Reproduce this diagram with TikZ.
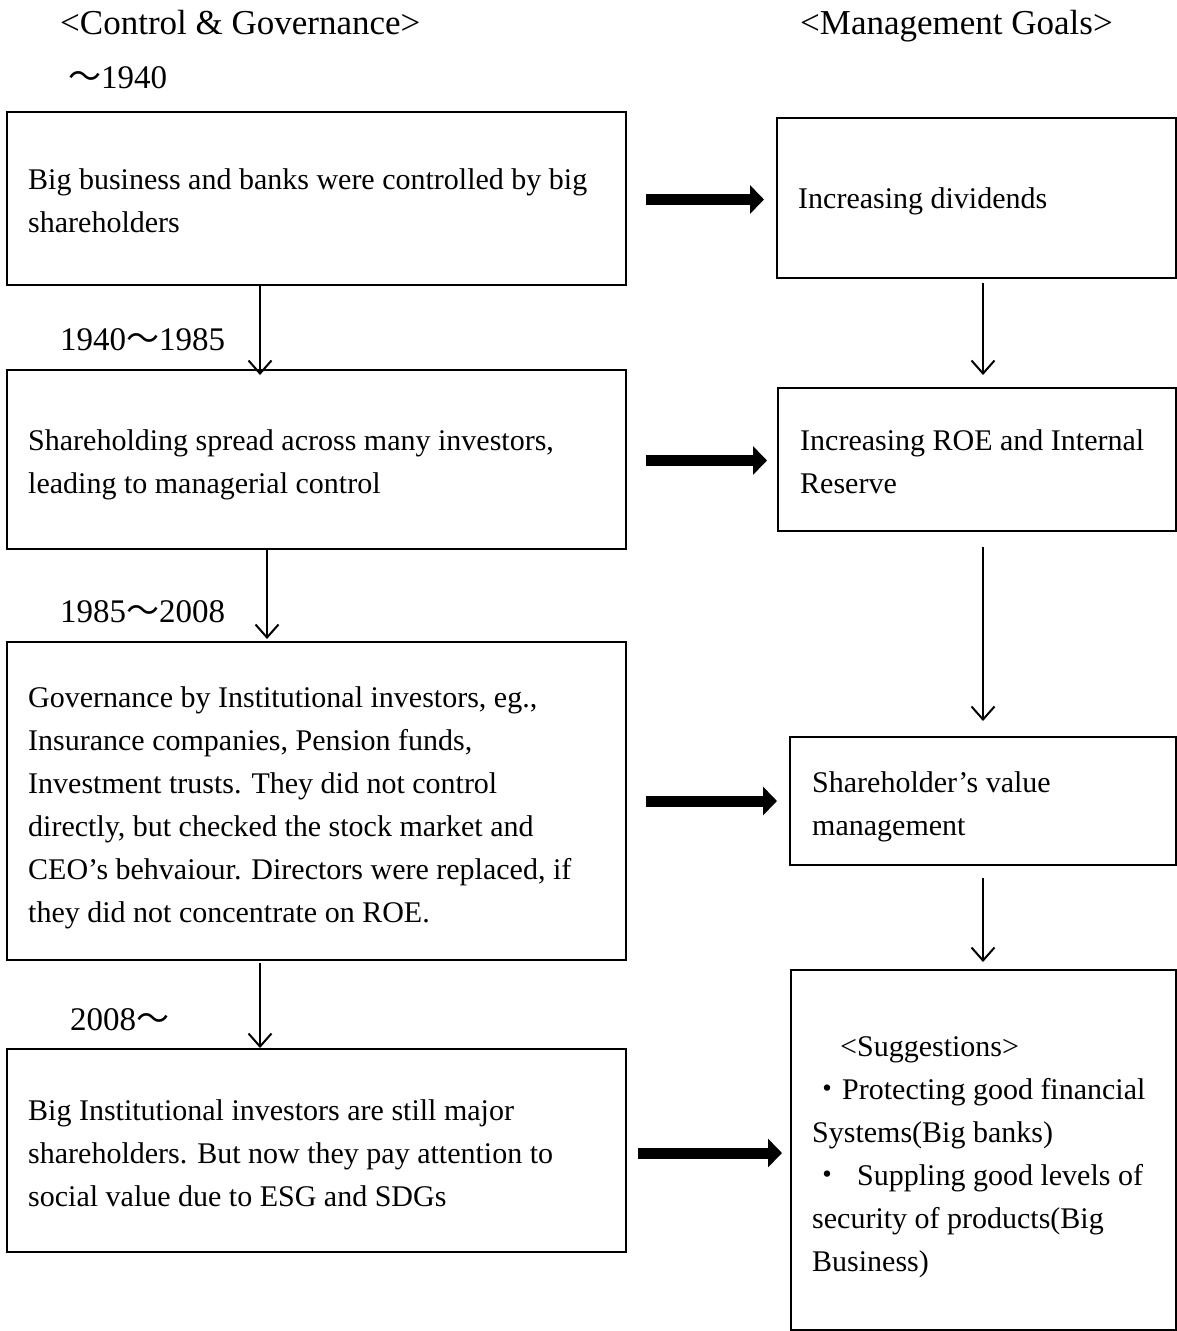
\documentclass[tikz,border=0pt]{standalone}
\usepackage{fontspec}
\setmainfont{Liberation Serif}
\newfontfamily\jp{Noto Sans CJK JP}
\usetikzlibrary{arrows.meta}
\newcommand{\wave}{{\jp ～}}
\newcommand{\dotmark}{{\jp ・}}
\begin{document}
\begin{tikzpicture}[x=1pt,y=-1pt,
  box/.style={draw=black, line width=2pt, inner sep=0pt},
  % multi-line texts are placed by the baseline of their last line
  txt/.style={inner sep=0pt, anchor=base west, align=left,
    font=\fontsize{30pt}{43pt}\selectfont},
  head/.style={txt, font=\fontsize{35pt}{40pt}\selectfont},
  period/.style={txt, font=\fontsize{33pt}{40pt}\selectfont},
  flow/.style={line width=2pt, -{Straight Barb[length=13pt,width=23pt,line width=2pt]}},
  push/.style={line width=11pt, -{Triangle[length=14pt,width=28pt]}}]
\useasboundingbox (0,0) rectangle (1177,1331);

% column headings and periods
\node[head] (hcg) at (60,34) {<Control \& Governance>};
\node[head] (hmg) at (800,34) {<Management Goals>};
\node[period] (p1) at (68,88) {\wave1940};
\node[period] (p2) at (60,350) {1940\wave1985};
\node[period] (p3) at (60,622) {1985\wave2008};
\node[period] (p4) at (70,1030) {2008\wave};

% left column: control and governance
\node[box, minimum width=619pt, minimum height=173pt] (b1) at (316.5,198.5) {};
\node[box, minimum width=619pt, minimum height=179pt] (b2) at (316.5,459.5) {};
\node[box, minimum width=619pt, minimum height=318pt] (b3) at (316.5,801) {};
\node[box, minimum width=619pt, minimum height=203pt] (b4) at (316.5,1150.5) {};

\node[txt] (t1) at (28,232) {Big business and banks were controlled by big\\shareholders};
\node[txt] (t2) at (28,493) {Shareholding spread across many investors,\\leading to managerial control};
\node[txt] (t3) at (28,922) {Governance by Institutional investors, eg.,\\Insurance companies, Pension funds,\\Investment trusts. They did not control\\directly, but checked the stock market and\\CEO’s behvaiour. Directors were replaced, if\\they did not concentrate on ROE.};
\node[txt] (t4) at (28,1206) {Big Institutional investors are still major\\shareholders. But now they pay attention to\\social value due to ESG and SDGs};

% right column: management goals
\node[box, minimum width=399pt, minimum height=160pt] (r1) at (976.5,198) {};
\node[box, minimum width=398pt, minimum height=143pt] (r2) at (977,459.5) {};
\node[box, minimum width=386pt, minimum height=128pt] (r3) at (983,801) {};
\node[box, minimum width=385pt, minimum height=360pt] (r4) at (983.5,1150) {};

\node[txt] (s1) at (798,208) {Increasing dividends};
\node[txt] (s2) at (800,493) {Increasing ROE and Internal\\Reserve};
\node[txt] (s3) at (812,835) {Shareholder’s value\\management};
\node[txt] (s4) at (812,1271) {\hspace*{28pt}<Suggestions>\\\dotmark Protecting good financial\\Systems(Big banks)\\\dotmark\ \ Suppling good levels of\\security of products(Big\\Business)};

% vertical links between periods
\draw[flow, shorten >=-6pt] ([xshift=-56.5pt]b1.south) -- ([xshift=-56.5pt]b2.north);
\draw[flow, shorten >=2pt] ([xshift=-49.5pt]b2.south) -- ([xshift=-49.5pt]b3.north);
\draw[flow, shorten <=2pt] ([xshift=-56.5pt]b3.south) -- ([xshift=-56.5pt]b4.north);
\draw[flow, shorten <=4pt, shorten >=12pt] ([xshift=6.5pt]r1.south) -- ([xshift=6pt]r2.north);
\draw[flow, shorten <=15pt, shorten >=15pt] ([xshift=6pt]r2.south) -- (r3.north);
\draw[flow, shorten <=12pt, shorten >=7pt] (r3.south) -- ([xshift=-0.5pt]r4.north);

% links from governance to goals
\draw[push, shorten <=19pt, shorten >=12pt] ([yshift=-1pt]b1.east) -- ([yshift=-1pt]b1.east -| r1.west);
\draw[push, shorten <=19pt, shorten >=10pt] ([yshift=-1pt]b2.east) -- ([yshift=-1pt]b2.east -| r2.west);
\draw[push, shorten <=19pt, shorten >=12pt] (b3.east) -- (b3.east -| r3.west);
\draw[push, shorten <=11pt, shorten >=8pt] ([yshift=-2.5pt]b4.east) -- ([yshift=-2.5pt]b4.east -| r4.west);
\end{tikzpicture}
\end{document}
